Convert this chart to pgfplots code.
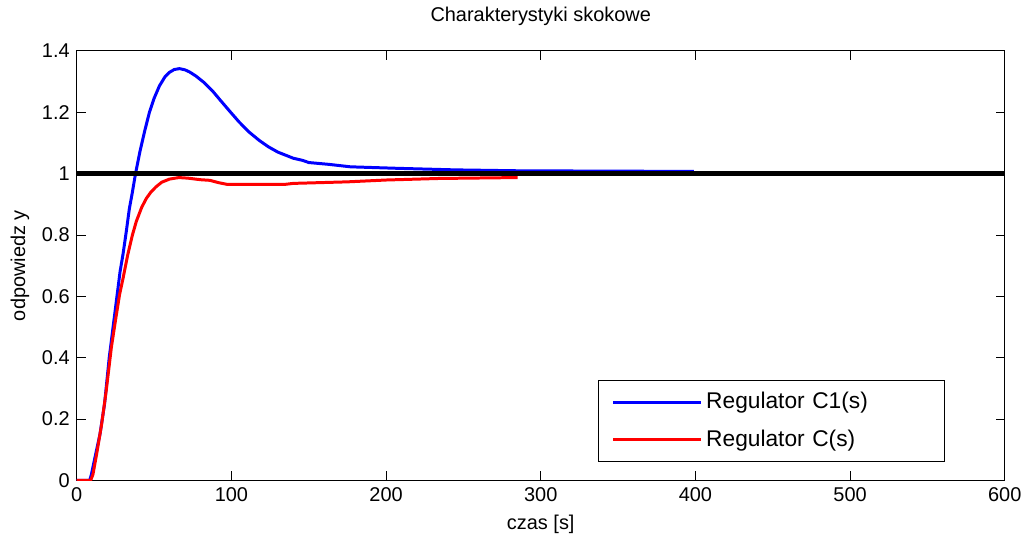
\documentclass[border=0pt]{standalone}
\usepackage{fontspec}
\setmainfont{Liberation Sans}
\usepackage{pgfplots}
\pgfplotsset{compat=1.18}

\begin{document}
\begin{tikzpicture}
\begin{axis}[
  scale only axis,
  width=465.5pt, height=215.5pt,
  xmin=0, xmax=600, ymin=0, ymax=1.4,
  xtick={0,100,...,600},
  ytick={0,0.2,...,1.4},
  yticklabel style={/pgf/number format/fixed},
  /pgf/number format/assume math mode=true,
  tick align=inside,
  major tick length=4.5pt,
  tick style={black, line width=0.4pt},
  axis line style={line width=0.5pt},
  font=\fontsize{10}{12}\selectfont,
  title={Charakterystyki skokowe},
  title style={at={(axis description cs:0.5,1.0534)}, anchor=center},
  xlabel={czas [s]},
  ylabel={odpowiedz y},
  xlabel style={at={(axis description cs:0.5,-0.102)}, anchor=center},
  ylabel style={at={(axis description cs:-0.0612,0.5)}, anchor=center},
  legend style={at={(0.9356,0.234)}, anchor=north east, draw=black, line width=0.5pt,
    font=\fontsize{11.4}{14}\selectfont, row sep=5pt, inner xsep=6.5pt, inner ysep=4pt,
    nodes={text width=111pt, align=left}},
  legend cell align=left,
  legend image code/.code={\draw[#1] (0pt,0pt) -- (44pt,0pt);},
]
\addplot[blue, line width=1.5pt] coordinates {
(0,0)(8.4,0)(9.5,0.02)(12,0.08)(15,0.15)(18,0.25)(21,0.40)(24,0.52)(26,0.6)(28,0.68)(30,0.74)
(32,0.81)(34,0.885)(36,0.94)(38,1.0)(41,1.075)(44,1.14)(47,1.20)(50,1.245)(53.5,1.286)
(57,1.315)(60,1.33)(63,1.339)(66.4,1.342)(70,1.338)(73,1.331)(77,1.318)(82,1.298)(88,1.268)
(93,1.238)(98.6,1.205)(105,1.168)(111.5,1.135)(118,1.108)(124,1.087)(130,1.07)(135,1.06)
(140,1.05)(146,1.043)(150,1.036)(163,1.030)(177,1.022)(208,1.017)(245,1.012)(286.5,1.009)(399,1.007)
};
\addplot[red, line width=1.5pt] coordinates {
(0,0)(9,0)(10.5,0.02)(13,0.09)(16,0.18)(19,0.29)(22.4,0.434)(25,0.52)(27.7,0.606)(30,0.66)
(33,0.736)(36,0.80)(38.5,0.844)(42,0.89)(45,0.919)(48,0.94)(51.3,0.957)(55,0.972)(60,0.982)
(66,0.987)(72,0.985)(80,0.98)(86,0.978)(92,0.97)(97,0.965)(135,0.965)(140,0.968)(154,0.970)
(175,0.973)(200,0.979)(234,0.984)(285,0.987)
};
\addplot[black, line width=2.8pt, forget plot] coordinates {(0,1)(600,1)};
\legend{Regulator C1(s),Regulator C(s)}
\end{axis}
\path[use as bounding box] ([shift={(-38.5pt,-27.5pt)}]current axis.south west)
  rectangle ([shift={(10pt,22.5pt)}]current axis.north east);
\end{tikzpicture}
\end{document}
